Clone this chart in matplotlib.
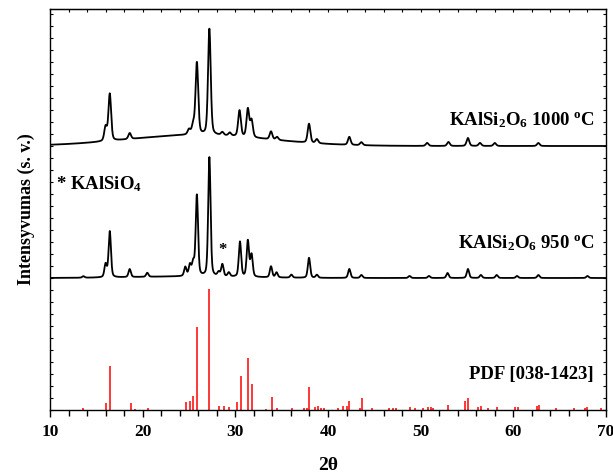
import numpy as np
import matplotlib
matplotlib.use("Agg")
import matplotlib.pyplot as plt
from matplotlib.ticker import MultipleLocator

# ---------------- data ----------------
# Reference pattern PDF [038-1423]: stick positions (2theta) and intensities (a.u.)
pdf_pos = [13.6, 16.0, 16.5, 18.7, 19.2, 20.6, 24.7, 25.1, 25.4, 25.9, 27.2,
           28.2, 28.8, 29.3, 30.2, 30.6, 31.4, 31.8, 33.3, 34.0, 34.5, 36.1,
           37.4, 37.7, 38.0, 38.6, 38.9, 39.2, 39.6, 41.1, 41.6, 42.0, 42.3,
           43.4, 43.7, 44.8, 46.6, 47.0, 47.3, 48.8, 49.4, 50.3, 50.8, 51.1,
           51.3, 52.9, 54.8, 55.1, 56.2, 56.5, 57.3, 58.2, 60.2, 60.5, 62.6,
           62.8, 64.6, 66.5, 67.7, 68.0, 69.5]
pdf_int = [2, 7, 44, 7, 1, 2, 8, 9, 14, 83, 121,
           4, 4, 3, 8, 34, 52, 26, 1, 13, 2, 2,
           2, 2, 23, 3, 4, 2, 2, 2, 4, 4, 9,
           2, 12, 2, 2, 2, 2, 3, 2, 2, 3, 3,
           2, 5, 9, 12, 3, 4, 2, 3, 3, 3, 4,
           5, 2, 2, 2, 3, 2]

# KAlSi2O6 950 C: peak positions, heights, width (FWHM)
p950_pos = [13.6, 16.0, 16.45, 18.6, 20.5, 24.6, 25.1, 25.45, 25.85, 27.2,
            28.2, 28.6, 29.3, 30.5, 31.35, 31.75, 33.85, 34.45, 36.05, 37.95,
            38.8, 42.3, 43.6, 48.8, 50.9, 52.9, 55.1, 56.5, 58.2, 60.4, 62.7, 68.0]
p950_int = [1.5, 13, 46, 8, 4, 9, 11, 13, 81, 119,
            4, 12, 4, 35, 36, 22, 11, 5, 3, 20,
            3, 9, 3, 2, 2, 5, 9, 3, 3, 2, 3, 2]
p950_fwhm = 0.3
p950_hump = (25.0, 1.5, 14.0)      # center, height, FWHM of amorphous hump

# KAlSi2O6 1000 C
p1000_pos = [16.0, 16.45, 18.6, 25.0, 25.45, 25.85, 27.2, 28.6, 29.4,
             30.45, 31.35, 31.75, 33.85, 34.5, 37.95, 38.8, 42.3, 43.6,
             50.7, 53.0, 55.1, 56.4, 58.0, 62.7]
p1000_int = [14, 47, 6, 5, 9, 72, 106, 3, 3,
             26, 28, 17, 8, 3, 19, 4, 8, 3,
             3, 4, 8, 3, 3, 3]
p1000_fwhm = 0.34
p1000_hump = (26.0, 11.0, 18.0)

offset_950 = 132
offset_1000 = 264

x_ticks = [10, 20, 30, 40, 50, 60, 70]

# ---------------- profiles (pseudo-Voigt peaks) ----------------
tt = np.arange(10.0, 70.0001, 0.02)

def profile(pos, inten, fwhm, hump, eta=0.35):
    y = np.zeros_like(tt)
    g = fwhm / 2.0
    for p, h in zip(pos, inten):
        lor = g**2 / ((tt - p)**2 + g**2)
        gau = np.exp(-4 * np.log(2) * ((tt - p) / fwhm)**2)
        y += h * (eta * lor + (1 - eta) * gau)
    c, hh, w = hump
    y += hh * np.exp(-4 * np.log(2) * ((tt - c) / w)**2)
    return y

y950 = profile(p950_pos, p950_int, p950_fwhm, p950_hump) + offset_950
y1000 = profile(p1000_pos, p1000_int, p1000_fwhm, p1000_hump) + offset_1000

# ---------------- style ----------------
plt.rcParams['font.family'] = ['Liberation Serif', 'DejaVu Serif']
plt.rcParams['font.weight'] = 'bold'
plt.rcParams['mathtext.fontset'] = 'custom'
plt.rcParams['mathtext.rm'] = 'Liberation Serif:bold'
plt.rcParams['mathtext.bf'] = 'Liberation Serif:bold'
plt.rcParams['mathtext.it'] = 'Liberation Serif:bold'
plt.rcParams['mathtext.default'] = 'bf'

fig = plt.figure(figsize=(6.13, 4.75), dpi=100)
ax = fig.add_axes([50 / 613, 65 / 475, 556 / 613, 401 / 475])

ax.vlines(pdf_pos, 0, pdf_int, colors='#ff0000', lw=1.1)
ax.plot(tt, y950, color='black', lw=1.3)
ax.plot(tt, y1000, color='black', lw=1.3)

ax.set_xlim(10, 70)
ax.set_ylim(0, 401)
ax.set_xticks(x_ticks)
ax.xaxis.set_minor_locator(MultipleLocator(2))
ax.yaxis.set_major_locator(MultipleLocator(12))
ax.tick_params(axis='x', which='major', direction='out', top=False, length=5,
               width=1, labelsize=12.5, pad=5)
ax.tick_params(axis='x', which='minor', direction='out', top=False, length=4,
               width=1)
ax.tick_params(axis='y', which='both', direction='in', left=True, right=True,
               length=2.5, width=0.8, labelleft=False)
for lab in ax.get_xticklabels():
    lab.set_fontweight('bold')
# top inner ticks
secx = ax.secondary_xaxis('top')
secx.set_xticks(np.arange(10, 71, 2))
secx.tick_params(direction='in', length=2.5, width=0.8, labeltop=False)
secx.set_xticklabels([])

for s in ax.spines.values():
    s.set_linewidth(1.0)

ax.set_xlabel(r'2θ', fontsize=14, fontweight='bold', labelpad=12)
ax.set_ylabel('Intensyvumas (s. v.)', fontsize=13, fontweight='bold', labelpad=11)

ax.text(68.8, 290, r'KAlSi$_2$O$_6$ 1000 $^\mathrm{o}$C', ha='right', va='center',
        fontsize=13.5, fontweight='bold')
ax.text(68.8, 167, r'KAlSi$_2$O$_6$ 950 $^\mathrm{o}$C', ha='right', va='center',
        fontsize=13.5, fontweight='bold')
ax.text(10.6, 226, r'* KAlSiO$_4$', ha='left', va='center',
        fontsize=13.5, fontweight='bold')
ax.text(68.7, 35, 'PDF [038-1423]', ha='right', va='center',
        fontsize=13.5, fontweight='bold')
ax.text(28.6, 160, '*', ha='center', va='center', fontsize=12, fontweight='bold')

fig.savefig('out.png', dpi=100)
